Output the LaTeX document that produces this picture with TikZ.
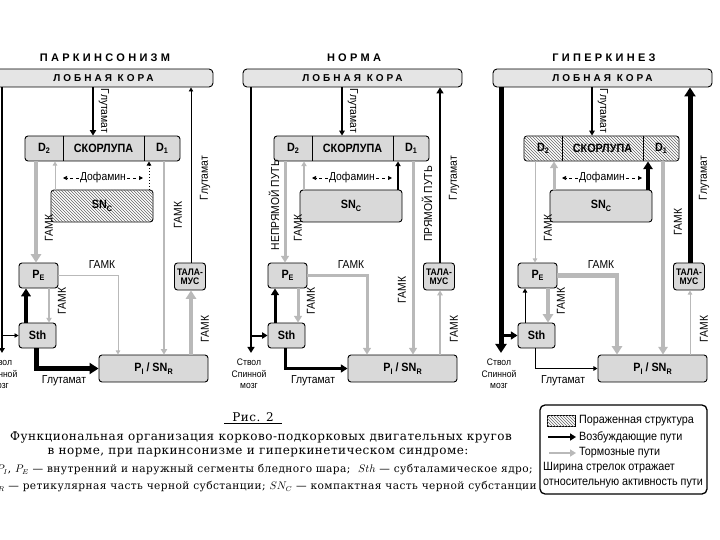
\documentclass[tikz,border=0pt]{standalone}
\usepackage{fontspec}
\setmainfont[FakeStretch=0.9]{Liberation Sans}
\newfontfamily\spaced[LetterSpace=30]{Liberation Sans}
\newfontfamily\capfont[LetterSpace=4]{DejaVu Serif}
\usetikzlibrary{arrows.meta, patterns, positioning}

\newcommand{\lowsub}[1]{\raisebox{-0.4ex}{\footnotesize #1}}

\tikzset{
    block_gray/.style={draw, line width=0.9pt, rounded corners=3pt, fill=gray!30, inner sep=1pt, font=\bfseries\fontsize{12}{13}\selectfont},
    block_hatch/.style={draw, line width=0.9pt, rounded corners=3pt, fill=white, postaction={pattern=north west lines, pattern color=black!60}, inner sep=1pt, font=\bfseries\fontsize{12}{13}\selectfont},
    block_text/.style={inner sep=1pt, font=\bfseries\fontsize{12}{13}\selectfont},
    cortex/.style={draw, line width=0.9pt, rounded corners=4pt, fill=gray!20, minimum width=219pt, minimum height=18pt, font=\spaced\bfseries\fontsize{10}{11}\selectfont},
    title/.style={font=\spaced\bfseries\fontsize{11}{12}\selectfont},
    thal_text/.style={align=center, font=\bfseries\fontsize{9.5}{9}\selectfont},
    stem_text/.style={align=center, inner sep=1pt, font=\fontsize{9.5}{11.5}\selectfont},
    label_h/.style={inner sep=1pt, font=\fontsize{11.5}{12}\selectfont},
    label_up/.style={label_h, rotate=90},
    label_down/.style={label_h, rotate=-90},
    arrow_exc/.style={draw=black, line width=#1, -{Triangle[length=3pt 1.2, width=3pt 1.6]}},
    arrow_inh/.style={draw=gray!55, line width=#1, -{Triangle[length=3pt 1.2, width=3pt 1.6]}},
    arrow_dopa/.style={draw=black, line width=0.7pt, dashed, -{Triangle[length=4pt, width=4pt]}},
    caption_text/.style={inner sep=0pt, font=\capfont\fontsize{12}{13}\selectfont},
    legend_text/.style={inner sep=1pt, font=\fontsize{12}{13}\selectfont}
}

% one motor circuit, in the coordinates of the middle panel
\newcommand{\circuit}[1]{%
    \coordinate (x_glu) at (342,0);
    \coordinate (x_stem) at (251,0);
    \coordinate (x_ind) at (285,0);
    \coordinate (x_da2) at (304,0);
    \coordinate (x_da1) at (398,0);
    \coordinate (x_dir) at (413,0);
    \coordinate (x_sthpe) at (275,0);
    \coordinate (x_pesth) at (298,0);
    \coordinate (x_pepi) at (367,0);
    \coordinate (x_thal) at (440,0);
    \coordinate (x_sep1) at (312,0);
    \coordinate (x_sep2) at (393,0);
    \coordinate (da_l) at (312,178);
    \coordinate (da_r) at (392,178);
    \node[title] (title) at (354,58) {#1};
    \node[cortex] (cortex) at (352.5,78) {ЛОБНАЯ КОРА};
    \node[w_str, minimum width=155pt, minimum height=25pt] (striatum) at (351.5,148.5) {};
    \node[block_text] (d2) at (293,148.5) {D\lowsub{2}};
    \node[block_text] (putamen) at (352.5,148.5) {СКОРЛУПА};
    \node[block_text] (d1) at (411,148.5) {D\lowsub{1}};
    \draw[line width=0.9pt] (striatum.north -| x_sep1) -- (striatum.south -| x_sep1);
    \draw[line width=0.9pt] (striatum.north -| x_sep2) -- (striatum.south -| x_sep2);
    \node[w_snc, minimum width=102pt, minimum height=32pt] (snc) at (351,206) {SN\lowsub{C}};
    \node[label_h] (dopamine) at (352,178) {Дофамин};
    \node[block_gray, minimum width=39pt, minimum height=25pt] (pe) at (287.5,275.5) {P\lowsub{E}};
    \node[block_gray, minimum width=37pt, minimum height=25pt] (sth) at (286.5,335.5) {Sth};
    \node[block_gray, minimum width=109pt, minimum height=27pt] (pi) at (402.5,368.5) {P\lowsub{I} / SN\lowsub{R}};
    \node[block_gray, thal_text, minimum width=31pt, minimum height=27pt] (thalamus) at (439,276.5) {ТАЛА-\\МУС};
    \node[stem_text] (stem) at (249,374) {Ствол\\Спинной\\мозг};
    % connectors
    \draw[w_glu] (cortex.south -| x_glu) -- (striatum.north -| x_glu);
    \draw[w_stem, shorten >=5pt] (cortex.south -| x_stem) -- (stem.north -| x_stem);
    \draw[w_thalctx] (thalamus.north -| x_thal) -- (cortex.south -| x_thal);
    \draw[w_ind] (striatum.south -| x_ind) -- (pe.north -| x_ind);
    \draw[w_dir] (striatum.south -| x_dir) -- (pi.north -| x_dir);
    \draw[w_da2] (snc.north -| x_da2) -- (striatum.south -| x_da2);
    \draw[w_da1] (snc.north -| x_da1) -- (striatum.south -| x_da1);
    \draw[arrow_dopa] (dopamine) -- (da_l);
    \draw[arrow_dopa] (dopamine) -- (da_r);
    \draw[w_pesth] (pe.south -| x_pesth) -- (sth.north -| x_pesth);
    \draw[w_sthpe] (sth.north -| x_sthpe) -- (pe.south -| x_sthpe);
    \draw[w_pepi] (pe.east) -| (pi.north -| x_pepi);
    \draw[w_sthpi] (sth.south -| x_ind) |- (pi.west);
    \draw[w_pithal] (pi.north -| x_thal) -- (thalamus.south -| x_thal);
    \draw[w_stemsth] (sth.west -| x_stem) -- (sth.west);
    % labels
    \node[label_down] (lab_glu) at (353,111) {Глутамат};
    \node[label_up] (lab_gluthal) at (454,178) {Глутамат};
    \node[label_up] (lab_ind) at (298,228) {ГАМК};
    \node[label_h] (lab_pepi) at (351,265) {ГАМК};
    \node[label_up] (lab_pesth) at (311,301) {ГАМК};
    \node[label_up] (lab_pithal) at (454,329) {ГАМК};
    \node[label_h] (lab_sthpi) at (313,381) {Глутамат};
}

\begin{document}
\begin{tikzpicture}[x=1pt, y=-1pt]
    \useasboundingbox (0,0) rectangle (720,540);
    \clip (0,0) rectangle (720,540);

    % parkinsonism
    \begin{scope}[shift={(-249,0)}, name prefix=park-,
        w_str/.style={block_gray}, w_snc/.style={block_hatch},
        w_glu/.style={arrow_exc=2pt}, w_stem/.style={arrow_exc=1.5pt}, w_thalctx/.style={arrow_exc=0.8pt},
        w_ind/.style={arrow_inh=4.5pt}, w_dir/.style={arrow_inh=2pt},
        w_da2/.style={arrow_inh=1pt}, w_da1/.style={arrow_exc=1pt, dotted},
        w_pesth/.style={arrow_inh=1.5pt}, w_sthpe/.style={arrow_exc=4pt}, w_pepi/.style={arrow_inh=1pt},
        w_sthpi/.style={arrow_exc=5pt}, w_pithal/.style={arrow_inh=4.5pt}, w_stemsth/.style={arrow_exc=0.8pt}]
        \circuit{ПАРКИНСОНИЗМ}
        \node[label_up] (lab_dir) at (427,215) {ГАМК};
    \end{scope}

    % norm
    \begin{scope}[name prefix=norm-,
        w_str/.style={block_gray}, w_snc/.style={block_gray},
        w_glu/.style={arrow_exc=1.5pt}, w_stem/.style={arrow_exc=2.5pt}, w_thalctx/.style={arrow_exc=2.5pt},
        w_ind/.style={arrow_inh=3pt}, w_dir/.style={arrow_inh=3pt},
        w_da2/.style={arrow_inh=1.5pt}, w_da1/.style={arrow_exc=1.5pt},
        w_pesth/.style={arrow_inh=3pt}, w_sthpe/.style={arrow_exc=3pt}, w_pepi/.style={arrow_inh=3pt},
        w_sthpi/.style={arrow_exc=3pt}, w_pithal/.style={arrow_inh=1.5pt}, w_stemsth/.style={arrow_exc=2pt}]
        \circuit{НОРМА}
        \node[label_up] (lab_indirect) at (274,205) {НЕПРЯМОЙ ПУТЬ};
        \node[label_up] (lab_direct) at (427,204) {ПРЯМОЙ ПУТЬ};
        \node[label_up] (lab_dir) at (402,290) {ГАМК};
    \end{scope}

    % hyperkinesis
    \begin{scope}[shift={(250,0)}, name prefix=hyper-,
        w_str/.style={block_hatch}, w_snc/.style={block_gray},
        w_glu/.style={arrow_exc=1.5pt}, w_stem/.style={arrow_exc=5pt}, w_thalctx/.style={arrow_exc=5pt},
        w_ind/.style={arrow_inh=1pt}, w_dir/.style={arrow_inh=4pt},
        w_da2/.style={arrow_inh=3pt}, w_da1/.style={arrow_exc=4pt},
        w_pesth/.style={arrow_inh=4.5pt}, w_sthpe/.style={arrow_exc=1pt}, w_pepi/.style={arrow_inh=4.5pt},
        w_sthpi/.style={arrow_exc=1pt}, w_pithal/.style={arrow_inh=1pt}, w_stemsth/.style={arrow_exc=3pt}]
        \circuit{ГИПЕРКИНЕЗ}
        \node[label_up] (lab_dir) at (428,222) {ГАМК};
    \end{scope}

    % caption
    \node[caption_text] (fig) at (253,417) {Рис. 2};
    \draw[line width=0.6pt] ([xshift=-8pt, yshift=-2pt]fig.south west) -- ([xshift=8pt, yshift=-2pt]fig.south east);
    \node[caption_text, anchor=east] (cap1) at (512,437) {Функциональная организация корково-подкорковых двигательных кругов};
    \node[caption_text] (cap2) at (258,453) {в норме, при паркинсонизме и гиперкинетическом синдроме:};
    \node[caption_text, anchor=east, font=\capfont\fontsize{10.6}{12}\selectfont] (cap3) at (533,470) {$P_I$, $P_E$ — внутренний и наружный сегменты бледного шара; \ $Sth$ — субталамическое ядро;};
    \node[caption_text, anchor=east, font=\capfont\fontsize{10.6}{12}\selectfont] (cap4) at (537,487) {$SN_R$ — ретикулярная часть черной субстанции; $SN_C$ — компактная часть черной субстанции};

    % legend
    \node[draw, line width=1.3pt, rounded corners=5pt, minimum width=167pt, minimum height=89pt] (legend) at (623.5,449.5) {};
    \node[block_hatch, sharp corners, line width=0.6pt, minimum width=28pt, minimum height=11pt] (leg_hatch) at (561,421) {};
    \node[legend_text, anchor=west] (leg_t1) at (578,421) {Пораженная структура};
    \node[legend_text, anchor=west] (leg_t2) at (578,437) {Возбуждающие пути};
    \node[legend_text, anchor=west] (leg_t3) at (578,453) {Тормозные пути};
    \node[legend_text, anchor=west] (leg_t4) at (542,468) {Ширина стрелок отражает};
    \node[legend_text, anchor=west] (leg_t5) at (542,484) {относительную активность пути};
    \coordinate (leg_a2) at (548,437);
    \coordinate (leg_a3) at (549,453);
    \draw[arrow_exc=2.5pt, shorten >=2pt] (leg_a2) -- (leg_t2.west);
    \draw[arrow_inh=2.5pt, shorten >=2pt] (leg_a3) -- (leg_t3.west);
\end{tikzpicture}
\end{document}
